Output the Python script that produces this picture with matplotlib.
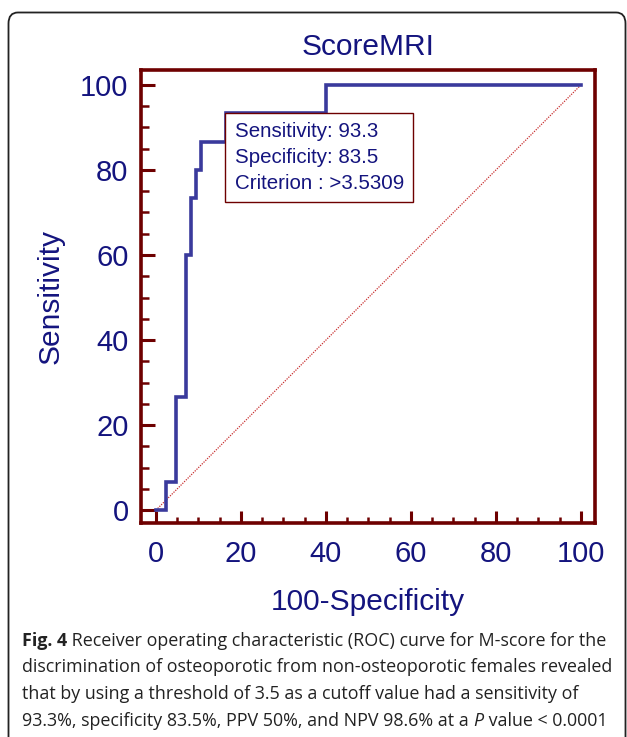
import matplotlib
matplotlib.use("Agg")
import matplotlib.pyplot as plt
from matplotlib.patches import FancyBboxPatch
from matplotlib.ticker import MultipleLocator

# ROC data (100-specificity, sensitivity)
fpr = [0, 0, 2.4, 2.4, 4.7, 4.7, 7.1, 7.1, 8.2, 8.2, 9.4, 9.4, 10.6, 10.6, 16.5, 16.5, 40.0, 40.0, 100]
tpr = [0, 0, 0, 6.67, 6.67, 26.67, 26.67, 60.0, 60.0, 73.33, 73.33, 80.0, 80.0, 86.67, 86.67, 93.33, 93.33, 100, 100]
ticks = [0, 20, 40, 60, 80, 100]
box_lines = ["Sensitivity: 93.3", "Specificity: 83.5", "Criterion : >3.5309"]
caption = [
    [("Fig. 4", "bold", "normal"), (" Receiver operating characteristic (ROC) curve for M-score for the", "normal", "normal")],
    [("discrimination of osteoporotic from non-osteoporotic females revealed", "normal", "normal")],
    [("that by using a threshold of 3.5 as a cutoff value had a sensitivity of", "normal", "normal")],
    [("93.3%, specificity 83.5%, PPV 50%, and NPV 98.6% at a ", "normal", "normal"),
     ("P", "normal", "italic"), (" value < 0.0001", "normal", "normal")],
]

navy = "#14147e"
dred = "#6e0000"
blue = "#3a3a9c"

W, H = 627, 737
fig = plt.figure(figsize=(W / 100, H / 100), dpi=100)
plt.rcParams['font.family'] = ['Liberation Sans', 'DejaVu Sans']

# outer rounded frame
frame = FancyBboxPatch((8.5 / W, -0.05), (625.5 - 8.5) / W, 1.05 - 12.5 / H,
                       boxstyle="round,pad=0,rounding_size=0.015",
                       transform=fig.transFigure, fc="none", ec="#222222", lw=1.3)
fig.patches.append(frame)

ax = fig.add_axes([141 / W, 1 - 523 / H, 454 / W, 453 / H])
ax.plot([0, 100], [0, 100], ls=(0, (1, 1)), color="#c83030", lw=0.9)
ax.plot(fpr, tpr, color=blue, lw=2.6, solid_joinstyle="miter")
ax.set_xlim(-3.5, 103.3)
ax.set_ylim(-3.0, 103.5)

ax.xaxis.set_minor_locator(MultipleLocator(5))
ax.yaxis.set_minor_locator(MultipleLocator(5))
ax.set_xticks(ticks)
ax.set_yticks(ticks)
ax.tick_params(which="major", direction="in", length=9, width=2.2, color=dred,
               labelsize=21, labelcolor=navy, pad=9)
ax.tick_params(which="minor", direction="in", length=4.5, width=1.8, color=dred)
ax.tick_params(axis="x", which="major", pad=12)
ax.tick_params(axis="y", which="major", length=10)
ax.tick_params(axis="y", which="minor", length=6)
for s in ax.spines.values():
    s.set_color(dred)
    s.set_linewidth(2.6)

ax.set_title("ScoreMRI", fontsize=21.5, color=navy, pad=11)
ax.set_xlabel("100-Specificity", fontsize=21.5, color=navy, labelpad=15)
ax.set_ylabel("Sensitivity", fontsize=21.5, color=navy, labelpad=11)

# annotation box
ax.text(18.5, 91.2, "\n".join(box_lines), fontsize=14.8, color=navy, va="top", ha="left",
        linespacing=1.45,
        bbox=dict(boxstyle="square,pad=0.45", fc="white", ec=dred, lw=1.0))

# caption with mixed styles, sized to the reference line width
fig.canvas.draw()
r = fig.canvas.get_renderer()
probe = fig.text(0, 0, caption[1][0][0], fontsize=14, family=["Open Sans", "DejaVu Sans"])
cap_size = 14 * 594 / probe.get_window_extent(renderer=r).width
probe.remove()

y0 = 1 - 641 / H
for i, line in enumerate(caption):
    x = 22 / W
    y = y0 - i * 26.5 / H
    for txt, wt, st in line:
        t = fig.text(x, y, txt, fontsize=cap_size, family=["Open Sans", "DejaVu Sans"],
                     fontweight=wt, fontstyle=st, color="#222222", va="center", ha="left")
        bb = t.get_window_extent(renderer=r)
        x = bb.x1 / W

fig.savefig("out.png", dpi=100)
